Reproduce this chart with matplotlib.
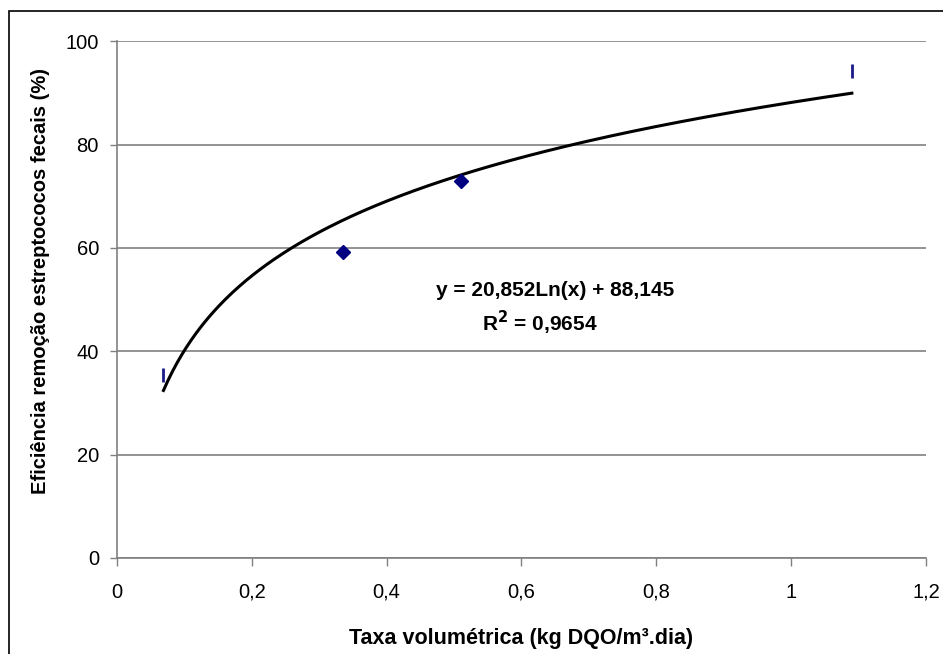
import matplotlib.pyplot as plt
import numpy as np
from matplotlib.patches import Rectangle

plt.rcParams['font.family'] = ['Liberation Sans', 'DejaVu Sans']

# dados observados
taxa = [0.069, 0.335, 0.510, 1.090]
eficiencia = [35.4, 59.2, 73.0, 94.2]

# ajuste logaritmico (Excel)
coef_a = 20.852
coef_b = 88.145
r2 = 0.9654

xticks = [0, 0.2, 0.4, 0.6, 0.8, 1.0, 1.2]
xtick_labels = ["0", "0,2", "0,4", "0,6", "0,8", "1", "1,2"]
yticks = [0, 20, 40, 60, 80, 100]

fig = plt.figure(figsize=(9.43, 6.54), dpi=100)
ax = fig.add_axes([0.124, 0.147, 0.858, 0.790])

# moldura externa do grafico
fig.patches.append(Rectangle((0.0095, -0.01), 1.0, 0.993, transform=fig.transFigure,
                             fill=False, edgecolor='black', linewidth=1.2))

ax.set_xlim(0, 1.2)
ax.set_ylim(0, 100)
ax.set_yticks(yticks)
ax.set_yticklabels([str(v) for v in yticks], fontsize=14.5)
ax.set_xticks(xticks)
ax.set_xticklabels(xtick_labels, fontsize=14.5)
ax.tick_params(axis='y', length=5, width=1, color='#808080', pad=8)
ax.tick_params(axis='x', length=6, width=1, color='#808080', pad=12)

for s in ['top', 'right']:
    ax.spines[s].set_visible(False)
for s in ['left', 'bottom']:
    ax.spines[s].set_color('#808080')
    ax.spines[s].set_linewidth(1.2)

ax.yaxis.grid(True, color='#808080', linewidth=1.2)
ax.set_axisbelow(True)

# pontos: extremos como barra vertical, meio como losango
ax.plot(taxa[1:3], eficiencia[1:3], linestyle='none', marker='D', markersize=7,
        color='#000080', zorder=4)
ax.plot([taxa[0], taxa[3]], [eficiencia[0], eficiencia[3]], linestyle='none', marker='|',
        markersize=10, markeredgewidth=2, color='#1a1a8c', zorder=4)

# curva de tendencia
xs = np.linspace(taxa[0], taxa[-1], 300)
ax.plot(xs, coef_a * np.log(xs) + coef_b, color='black', linewidth=2.2, zorder=3)

eq1 = "y = {}Ln(x) + {}".format(f"{coef_a:.3f}".replace('.', ','),
                                f"{coef_b:.3f}".replace('.', ','))
eq2 = "R$^\\mathbf{2}$ = " + f"{r2:.4f}".replace('.', ',')
ax.text(0.65, 51.8, eq1, ha='center', va='center', fontsize=15, fontweight='bold')
ax.text(0.627, 45.4, eq2, ha='center', va='center', fontsize=15, fontweight='bold')

ax.set_xlabel("Taxa volumétrica (kg DQO/m³.dia)", fontsize=15.5, fontweight='bold', labelpad=19)
ax.set_ylabel("Eficiência remoção estreptococos fecais (%)", fontsize=14.5, fontweight='bold',
              labelpad=12)
ax.yaxis.set_label_coords(-0.083, 0.536)

fig.savefig("out.png", dpi=100)
